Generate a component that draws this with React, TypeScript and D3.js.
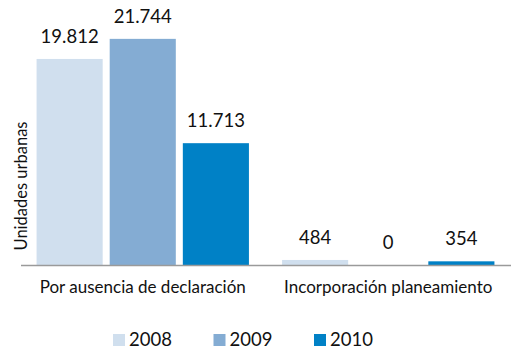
import React from "react";
import * as d3 from "d3";

const categories = ["Por ausencia de declaración", "Incorporación planeamiento"];
const seriesNames = ["2008", "2009", "2010"];
const values2008 = [19812, 484];
const values2009 = [21744, 0];
const values2010 = [11713, 354];
const seriesColors = ["#d0dfee", "#84acd3", "#0081c6"];

const W = 511;
const H = 351;
const FONT = "Lato, 'Open Sans', sans-serif";

const fmt = (v: number) => d3.format(",")(v).replace(/,/g, ".");

export default function App() {
  const seriesValues = [values2008, values2009, values2010];
  const baseY = 265;

  const x0 = d3
    .scaleBand<string>()
    .domain(categories)
    .range([20, 511])
    .paddingInner(0.135)
    .paddingOuter(0.0675);

  const x1 = d3
    .scaleBand<string>()
    .domain(seriesNames)
    .range([0, x0.bandwidth()])
    .paddingInner(0.096);

  const y = d3.scaleLinear().domain([0, 25000]).range([baseY, 5]);

  const legendX = d3.scalePoint<string>().domain(seriesNames).range([113, 314]);

  return (
    <svg
      width={W}
      height={H}
      style={{ position: "absolute", left: 0, top: 0, background: "#fff" }}
      fontFamily={FONT}
    >
      {categories.map((cat, ci) => (
        <g key={cat} transform={`translate(${x0(cat)},0)`}>
          {seriesNames.map((s, si) => {
            const v = seriesValues[si][ci];
            const bx = x1(s)!;
            return (
              <g key={s}>
                <rect
                  x={bx}
                  y={y(v)}
                  width={x1.bandwidth()}
                  height={baseY - y(v)}
                  fill={seriesColors[si]}
                />
                <text
                  x={bx + x1.bandwidth() / 2}
                  y={y(v) - 16}
                  textAnchor="middle"
                  fontSize={18.5}
                  fill="#111"
                >
                  {fmt(v)}
                </text>
              </g>
            );
          })}
          <text
            x={x0.bandwidth() / 2}
            y={293}
            textAnchor="middle"
            fontSize={17}
            fill="#111"
          >
            {cat}
          </text>
        </g>
      ))}

      <line x1={21} x2={W} y1={baseY + 0.5} y2={baseY + 0.5} stroke="#9a9a9a" strokeWidth={1.5} />

      <text
        transform={`translate(27,186) rotate(-90)`}
        textAnchor="middle"
        fontSize={16.5}
        fill="#111"
      >
        Unidades urbanas
      </text>

      {seriesNames.map((s, si) => (
        <g key={s} transform={`translate(${legendX(s)},0)`}>
          <rect x={0} y={334} width={12} height={12} fill={seriesColors[si]} />
          <text x={16} y={346} fontSize={18.5} fill="#111">
            {s}
          </text>
        </g>
      ))}
    </svg>
  );
}
